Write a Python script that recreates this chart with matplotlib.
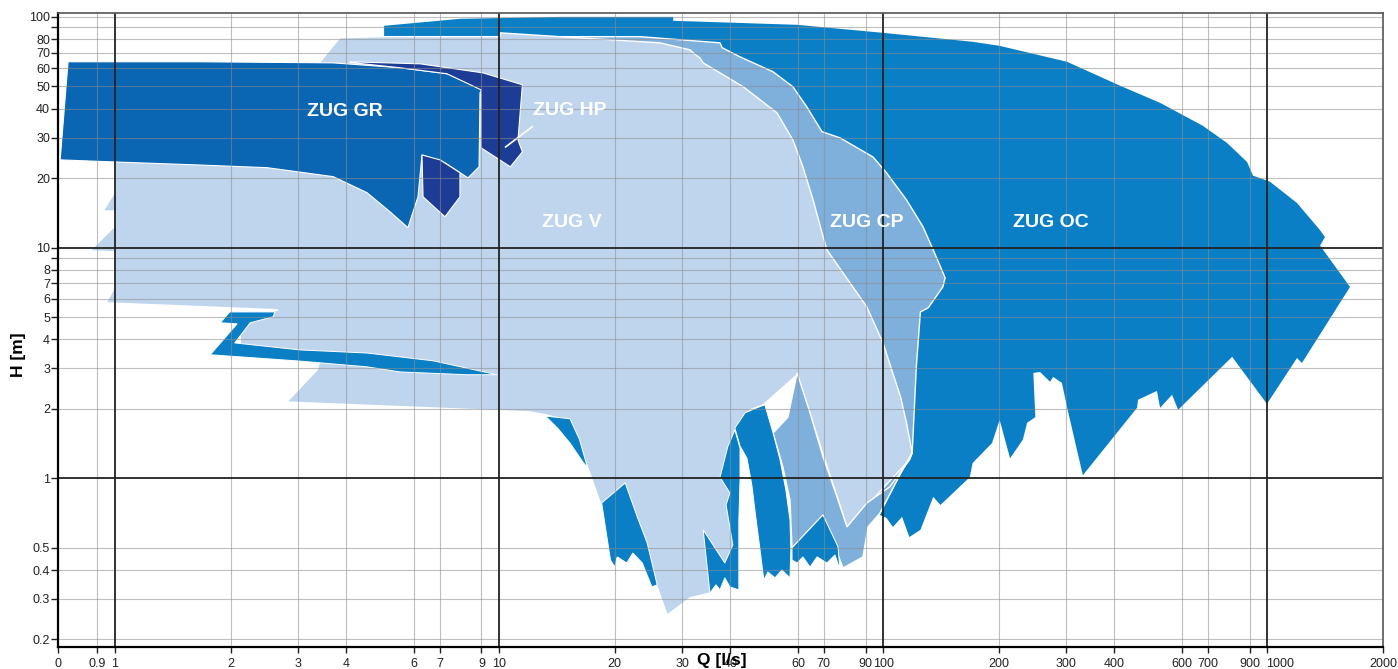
import matplotlib
matplotlib.use('Agg')
import matplotlib.pyplot as plt
from matplotlib.patches import Polygon
from matplotlib.ticker import FixedLocator, FixedFormatter, NullLocator
from matplotlib.transforms import ScaledTranslation
import numpy as np

plt.rcParams['font.family'] = ['Liberation Sans', 'DejaVu Sans']

# ---------------- data (Q [l/s], H [m]) ----------------
OC_Q = [5.02, 5.02, 7.91, 14.4, 28.4, 28.4, 59.7, 99.9, 171, 201, 301, 414, 526, 680, 786,
        886, 918, 1016, 1195, 1372, 1413, 1372, 1642, 1396, 1231, 1195, 998, 810, 586, 565,
        526, 516, 461, 458, 331, 301, 292, 277, 272, 256, 246, 249, 237, 231, 214,
        201, 192, 171, 168, 141, 135, 125, 117, 112, 106, 102, 98.1, 92.4, 33.3, 10.05]
OC_H = [81.2, 91.5, 98.1, 100, 100, 96.2, 92.4, 85.3, 78.0, 74.9, 63.9, 50.3, 42.4, 33.7, 28.4,
        23.5, 20.5, 19.3, 15.6, 11.9, 11.1, 10.2, 6.75, 4.40, 3.16, 3.32, 2.10, 3.36, 1.98, 2.30,
        2.02, 2.39, 2.19, 2.02, 1.03, 2.04, 2.59, 2.75, 2.62, 2.89, 2.86, 1.84, 1.74, 1.47, 1.22,
        1.79, 1.42, 1.165, 1.01, 0.766, 0.830, 0.597, 0.556, 0.680, 0.615, 0.673, 0.693, 2.19, 16.1, 65.2]

CP_Q = [14.4, 23.3, 37.6, 38.1, 42.4, 51.7, 58.2, 63.3, 69.3, 77.2, 94.1, 102, 115, 127, 135,
        141, 145, 143, 131, 125, 122, 119, 111, 98.1, 91.3, 88.6, 78.6, 80.5, 60.7, 18.3]
CP_H = [82.1, 82.1, 77.2, 73.5, 67.1, 57.8, 49.8, 40.7, 31.8, 29.9, 24.7, 21.1, 16.1, 12.3, 9.77,
        8.25, 7.39, 6.75, 5.48, 5.26, 3.04, 1.29, 1.05, 0.707, 0.615, 0.456, 0.408, 0.615, 5.93, 65.2]

CPL_Q = [51.7, 56.5, 59.7, 64.5, 69.7, 75.8, 80.5, 90.7, 104, 117, 119, 111, 98.1, 91.3, 88.6,
         78.6, 69.7, 57.9, 57.2, 54.8]
CPL_H = [1.57, 1.84, 2.86, 1.92, 1.24, 0.830, 0.615, 0.781, 0.917, 1.20, 1.29, 1.05, 0.707, 0.615,
         0.456, 0.408, 0.693, 0.499, 0.805, 1.12]

V_Q = [1.0, 3.03, 3.42, 3.85, 4.99, 10.05, 10.05, 14.4, 26.2, 31.4, 32.0, 33.3, 34.0, 43.2, 52.9,
       58.2, 61.8, 65.7, 69.3, 71.4, 78.6, 90.7, 99.9, 111, 115, 119, 117, 80.5, 59.7, 48.7,
       45.0, 41.9, 41.1, 41.6, 37.6, 35.4, 31.4, 27.4, 25.8, 23.3, 18.5, 17.3, 16.2, 15.3, 13.3,
       12.0, 2.80, 3.36, 3.42, 2.12, 2.12, 2.25, 2.66, 1.99, 0.948, 1.0, 1.0, 0.861, 1.0, 1.0,
       0.931, 1.0]
V_H = [26.5, 59.0, 63.9, 81.2, 82.1, 82.1, 85.3, 82.1, 77.2, 72.0, 69.9, 66.5, 63.2, 49.8, 38.4,
       29.3, 22.4, 16.1, 11.6, 9.77, 7.77, 5.53, 3.86, 2.25, 1.74, 1.29, 1.20, 0.615, 2.81, 2.08,
       1.98, 1.62, 1.09, 0.465, 0.381, 0.318, 0.303, 0.255, 0.338, 0.514, 0.751, 1.03, 1.39, 1.76, 1.88,
       1.94, 2.14, 2.95, 3.25, 3.60, 4.40, 4.96, 5.37, 5.48, 5.76, 6.75, 9.58, 9.68, 12.4, 14.4,
       14.4, 17.4]

Z_Q = [1.88, 1.99, 2.61, 2.58, 2.25, 2.05, 3.03, 4.53, 6.73, 9.88, 8.25, 5.52, 4.53, 3.03, 1.77, 2.08]
Z_H = [4.72, 5.26, 5.26, 5.01, 4.72, 3.86, 3.60, 3.49, 3.23, 2.81, 2.81, 2.89, 3.04, 3.22, 3.43, 4.67]

P1_Q = [13.2, 15.3, 16.2, 17.0, 16.5, 15.3, 14.2]
P1_H = [1.86, 1.81, 1.47, 1.11, 1.18, 1.42, 1.65]
P2_Q = [21.3, 22.9, 24.3, 25.8, 25.0, 24.0, 23.6, 22.3, 21.5, 20.3, 20.0, 19.5, 18.5]
P2_H = [0.954, 0.680, 0.524, 0.345, 0.338, 0.400, 0.429, 0.474, 0.429, 0.456, 0.412, 0.442, 0.781]
P34_Q = [41.1, 42.4, 42.4, 42.1, 42.1, 39.9, 38.7, 37.6, 36.7, 35.4, 34.0, 38.7, 40.6, 39.0, 39.9, 37.6, 39.4]
P34_H = [1.62, 1.35, 0.983, 0.659, 0.328, 0.338, 0.370, 0.328, 0.345, 0.318, 0.597, 0.429, 0.514,
         0.766, 0.864, 1.01, 1.37]
ARCH_Q = [41.1, 43.7, 46.9, 49.2, 51.7, 53.9, 55.8, 57.2, 57.5, 57.2, 54.5, 52.3, 50.1, 48.9, 47.8,
          46.7, 45.5, 44.2, 42.4]
ARCH_H = [1.65, 1.92, 2.02, 2.08, 1.57, 1.20, 0.890, 0.659, 0.489, 0.370, 0.400, 0.370, 0.392, 0.362,
          0.489, 0.659, 0.935, 1.22, 1.38]
P7_Q = [57.9, 69.7, 76.3, 77.2, 74.9, 71.4, 67.3, 64.5, 61.8, 59.7, 57.9]
P7_H = [0.499, 0.693, 0.504, 0.400, 0.465, 0.429, 0.456, 0.412, 0.456, 0.429, 0.442]

GR_Q = [0.755, 1.66, 3.70, 5.52, 7.32, 9.08, 8.92, 8.87, 8.30, 7.23, 6.30, 6.15, 5.79, 5.20, 4.53,
        3.70, 2.49, 1.66, 1.0, 0.72]
GR_H = [63.9, 63.9, 63.2, 60.2, 56.7, 48.3, 46.9, 22.4, 20.05, 23.3, 25.2, 16.6, 12.2, 14.3, 17.3,
        20.3, 22.2, 22.8, 23.5, 24.0]
HP_Q = [4.09, 6.23, 9.08, 11.5, 11.2, 11.5, 10.7, 8.97, 8.97, 7.32, 5.52, 4.09]
HP_H = [63.9, 62.6, 57.2, 50.8, 29.3, 26.0, 22.4, 27.1, 48.3, 56.7, 60.2, 63.5]
HPS_Q = [6.30, 7.02, 7.91, 7.91, 7.23, 6.34]
HPS_H = [25.2, 24.0, 21.1, 16.6, 13.6, 16.6]

HP_LEADER_Q = [12.2, 10.4]
HP_LEADER_H = [33.4, 27.3]

X_TICKS = [0.712, 0.9, 1, 2, 3, 4, 6, 7, 9, 10, 20, 30, 40, 60, 70, 90, 100, 200, 300, 400,
           600, 700, 900, 1000, 2000]
X_LABELS = ['0', '0.9', '1', '2', '3', '4', '6', '7', '9', '10', '20', '30', '40', '60', '70',
            '90', '100', '200', '300', '400', '600', '700', '900', '1000', '2000']
Y_TICKS = [0.2, 0.3, 0.4, 0.5, 1, 2, 3, 4, 5, 6, 7, 8, 9, 10, 20, 30, 40, 50, 60, 70, 80, 90, 100]
Y_LABELS = ['0.2', '0.3', '0.4', '0.5', '1', '2', '3', '4', '5', '6', '7', '8', '', '10',
            '20', '30', '40', '50', '60', '70', '80', '', '100']
MAJOR_X = [1, 10, 100, 1000]
MAJOR_Y = [1, 10]

C_OC = '#0a7fc6'
C_CP = '#7fafdb'
C_V = '#bfd5ee'
C_GR = '#0a65b3'
C_HP = '#1c3c95'

# ---------------- figure ----------------
fig = plt.figure(figsize=(13.98, 6.69), dpi=100)
ax = fig.add_axes([0.0417, 0.0329, 0.9478, 0.9477])
ax.set_xscale('log')
ax.set_yscale('log')
ax.set_xlim(0.712, 2005)
ax.set_ylim(0.1855, 104)


def add(q, h, color, z, ec='white', lw=0.8):
    ax.add_patch(Polygon(np.column_stack([q, h]), closed=True, facecolor=color,
                         edgecolor=ec, linewidth=lw, zorder=z))


add(OC_Q, OC_H, C_OC, 1, ec='none', lw=0)
add(CP_Q, CP_H, C_CP, 2, lw=1.0)
add(V_Q, V_H, C_V, 3, lw=1.0)
add(CPL_Q, CPL_H, C_CP, 4, lw=1.0)
for q, h in [(Z_Q, Z_H), (P1_Q, P1_H), (P2_Q, P2_H), (P34_Q, P34_H), (ARCH_Q, ARCH_H), (P7_Q, P7_H)]:
    add(q, h, C_OC, 5, lw=0.7)
add(GR_Q, GR_H, C_GR, 6, lw=0.8)
add(HP_Q, HP_H, C_HP, 7, lw=0.8)
add(HPS_Q, HPS_H, C_HP, 8, lw=0.8)
ax.plot(HP_LEADER_Q, HP_LEADER_H, color='white', lw=1.2, zorder=9)

# grid lines on top
for x in X_TICKS[1:-1]:
    if x in MAJOR_X:
        ax.axvline(x, color='#222222', lw=1.3, zorder=10)
    else:
        ax.axvline(x, color='#8c8c8c', lw=0.8, alpha=0.55, zorder=9)
for y in Y_TICKS:
    if y in MAJOR_Y:
        ax.axhline(y, color='#222222', lw=1.3, zorder=10)
    else:
        ax.axhline(y, color='#8c8c8c', lw=0.8, alpha=0.55, zorder=9)

# ticks
ax.xaxis.set_major_locator(FixedLocator(X_TICKS))
ax.xaxis.set_major_formatter(FixedFormatter(X_LABELS))
ax.xaxis.set_minor_locator(NullLocator())
ax.yaxis.set_major_locator(FixedLocator(Y_TICKS))
ax.yaxis.set_major_formatter(FixedFormatter(Y_LABELS))
ax.yaxis.set_minor_locator(NullLocator())
ax.tick_params(axis='x', direction='out', length=4, width=1, pad=4, labelsize=9, colors='#222222')
ax.tick_params(axis='y', direction='out', length=5, width=1, pad=1, labelsize=9, colors='#222222')

fig.canvas.draw()
for lbl in ax.get_xticklabels():
    if lbl.get_text() == '1000':
        lbl.set_transform(lbl.get_transform() + ScaledTranslation(0.13, 0, fig.dpi_scale_trans))

for s in ['left', 'bottom']:
    ax.spines[s].set_color('black')
    ax.spines[s].set_linewidth(1.6)
for s in ['top', 'right']:
    ax.spines[s].set_color('#555555')
    ax.spines[s].set_linewidth(1.2)
for s in ax.spines.values():
    s.set_zorder(12)

# series labels
lab = dict(color='white', fontsize=14, fontweight='bold', ha='center', va='center', zorder=11)
ax.text(3.97, 38.8, 'ZUG GR', **lab)
ax.text(15.3, 39.2, 'ZUG HP', **lab)
ax.text(15.5, 12.9, 'ZUG V', **lab)
ax.text(90.7, 12.9, 'ZUG CP', **lab)
ax.text(273, 12.9, 'ZUG OC', **lab)

fig.text(18 / 1398, 1 - 355 / 669, 'H [m]', rotation=90, fontsize=12.5, fontweight='bold',
         ha='center', va='center')
fig.text(722 / 1398, 1 - 660 / 669, 'Q [l/s]', fontsize=12.5, fontweight='bold',
         ha='center', va='center', zorder=20)

fig.savefig('out.png', dpi=100)
